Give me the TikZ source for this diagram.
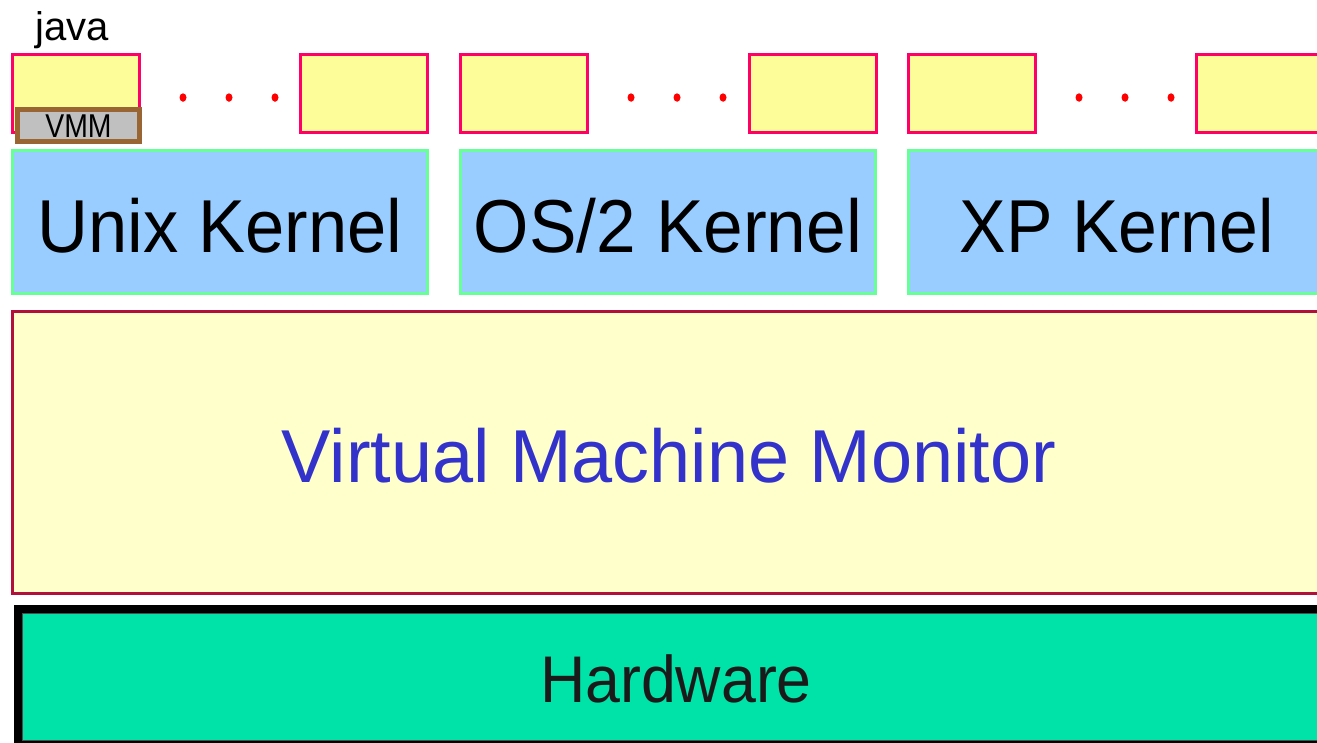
\documentclass[tikz,border=0pt]{standalone}
\usepackage{fontspec}
\setmainfont{Liberation Sans}
\usetikzlibrary{shapes.geometric}
\definecolor{appfill}{HTML}{FDFD99}
\definecolor{appline}{HTML}{FF0066}
\definecolor{kernfill}{HTML}{99CCFF}
\definecolor{kernline}{HTML}{66FF99}
\definecolor{vmmfill}{HTML}{FFFFCC}
\definecolor{vmmline}{HTML}{B0103A}
\definecolor{hwfill}{HTML}{00E3A8}
\definecolor{vmmtext}{HTML}{3333CC}
\definecolor{hwtext}{HTML}{1A1A1A}
\definecolor{smallline}{HTML}{996633}
\definecolor{smallfill}{HTML}{C0C0C0}
\definecolor{dotred}{HTML}{FF0000}
\begin{document}
\begin{tikzpicture}[x=1pt,y=-1pt,
  every node/.style={inner sep=0pt, outer sep=0pt},
  appbox/.style={draw=appline, fill=appfill, line width=3pt, anchor=north west, minimum width=127pt, minimum height=78pt},
  kernbox/.style={draw=kernline, fill=kernfill, line width=3pt, anchor=north west, minimum width=415pt, minimum height=143pt},
  vmmbox/.style={draw=vmmline, fill=vmmfill, line width=3pt, anchor=north west, minimum width=1330pt, minimum height=282pt},
  smallbox/.style={draw=smallline, fill=smallfill, line width=5pt, anchor=north west, minimum width=122pt, minimum height=32pt},
  kerntext/.style={anchor=base, font=\fontsize{75}{80}\selectfont, text=black},
  reddot/.style={ellipse, fill=dotred, minimum width=7pt, minimum height=8.5pt},
]
\useasboundingbox (0,0) rectangle (1317,742);
\clip (0,0) rectangle (1317,742);
\fill[white] (0,0) rectangle (1317,742);

% application boxes
\node[appbox] (a1) at (12.5,54.5) {};
\node[appbox] (a2) at (300.5,54.5) {};
\node[appbox] (a3) at (460.5,54.5) {};
\node[appbox] (a4) at (749.5,54.5) {};
\node[appbox] (a5) at (908.5,54.5) {};
\node[appbox] (a6) at (1196.5,54.5) {};

% dots
\foreach \g in {0,1,2}{
  \foreach \d in {0,1,2}{
    \node[reddot] (dot\g\d) at ({183+46*\d+448*\g},97.5) {};
  }
}

% small VMM box and java label
\node[smallbox] (svmm) at (17.5,109.5) {};
\node[anchor=base, font=\fontsize{33}{36}\selectfont] (svmmt) at (78.5,137) {\scalebox{0.86}[1]{VMM}};
\node[anchor=base, font=\fontsize{40}{44}\selectfont] (java) at (72.5,40) {java};

% kernels
\node[kernbox] (k1) at (12.5,150.5) {};
\node[kernbox] (k2) at (460.5,150.5) {};
\node[kernbox] (k3) at (908.5,150.5) {};
\node[kerntext] (k1t) at (220,252) {\scalebox{0.94}[1]{Unix Kernel}};
\node[kerntext] (k2t) at (668,252) {\scalebox{0.95}[1]{OS/2 Kernel}};
\node[kerntext] (k3t) at (1117,252) {\scalebox{0.93}[1]{XP Kernel}};

% virtual machine monitor
\node[vmmbox] (vmm) at (12.5,311.5) {};
\node[anchor=base, font=\fontsize{75}{80}\selectfont, text=vmmtext] (vmmt) at (669,482) {\scalebox{0.985}[1]{Virtual Machine Monitor}};

% hardware
\fill[black] (14,605) rectangle (1330,750);
\node[draw=black!70, fill=hwfill, line width=1pt, anchor=north west, minimum width=1320pt, minimum height=127pt] (hw) at (22.5,613.5) {};
\node[anchor=base, font=\fontsize{66}{70}\selectfont, text=hwtext] (hwt) at (676,702) {\scalebox{0.95}[1]{Hardware}};
\end{tikzpicture}
\end{document}
